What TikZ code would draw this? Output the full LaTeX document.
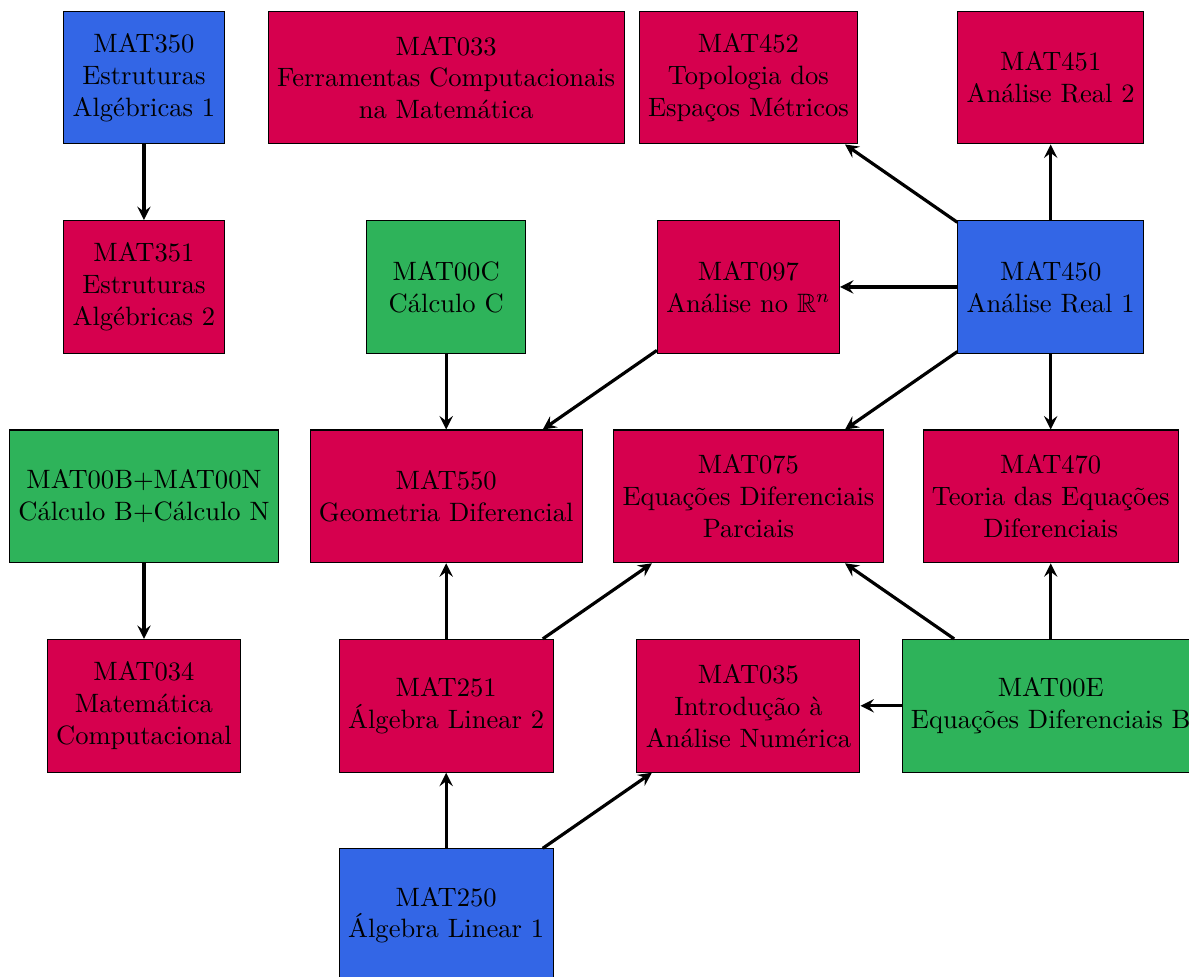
\documentclass[tikz,border=0pt]{standalone}
\usepackage{xcolor}
\usepackage{amssymb}
\usepackage{amsmath}
\usepackage{tikz}
\usetikzlibrary{calc}
\usetikzlibrary{positioning}

\definecolor{azul}{RGB}{51,102,230}
\definecolor{vermelho}{RGB}{214,0,78}
\definecolor{verde}{RGB}{46,179,90}

\begin{document}
\begin{tikzpicture}

        \def\d{1cm}

        % Estilo comum das disciplinas e cores por tipo
        \tikzset{materia/.style={draw, align=center, minimum height=5em, minimum width=6em},
                 obrig/.style={materia, fill=azul},
                 optat/.style={materia, fill=vermelho},
                 calc/.style={materia, fill=verde}}

        \useasboundingbox (-54.2pt, 29.2pt) rectangle (393.5pt, -338.3pt);

        % Primeira linha fixa as colunas, o resto vem abaixo
        \begin{scope}
            \node[obrig] (MAT350) at (0, 0) {MAT350\\Estruturas\\Alg\'ebricas 1};
            \node[optat] (MAT033) at (4, 0) {MAT033\\Ferramentas Computacionais\\na Matem\'atica};
            \node[optat] (MAT452) at (8, 0) {MAT452\\Topologia dos\\Espa\c{c}os M\'etricos};
            \node[optat] (MAT451) at (12, 0) {MAT451\\An\'alise Real 2};

            \node[optat] (MAT351) [below=\d of MAT350] {MAT351\\Estruturas\\Alg\'ebricas 2};
            \node[calc] (MAT00C) [below=\d of MAT033] {MAT00C\\C\'alculo C};
            \node[optat] (MAT097) [below=\d of MAT452] {MAT097\\An\'alise no $\mathbb{R}^n$};
            \node[obrig] (MAT450) [below=\d of MAT451] {MAT450\\An\'alise Real 1};

            \node[calc] (MAT00B) [below=\d of MAT351] {MAT00B+MAT00N\\C\'alculo B+C\'alculo N};
            \node[optat] (MAT550) [below=\d of MAT00C] {MAT550\\Geometria Diferencial};
            \node[optat] (MAT075) [below=\d of MAT097] {MAT075\\Equa\c{c}\~oes Diferenciais\\Parciais};
            \node[optat] (MAT470) [below=\d of MAT450] {MAT470\\Teoria das Equa\c{c}\~oes\\Diferenciais};

            \node[optat] (MAT034) [below=\d of MAT00B] {MAT034\\Matem\'atica\\Computacional};
            \node[optat] (MAT251) [below=\d of MAT550] {MAT251\\\'Algebra Linear 2};
            \node[optat] (MAT035) [below=\d of MAT075] {MAT035\\Introdu\c{c}\~ao \`a\\An\'alise Num\'erica};
            \node[calc] (MAT00E) [below=\d of MAT470] {MAT00E\\Equa\c{c}\~oes Diferenciais B};

            \node[obrig] (MAT250) [below=\d of MAT251] {MAT250\\\'Algebra Linear 1};
        \end{scope}

        \begin{scope}[very thick, -stealth]
            \draw (MAT350) -- (MAT351);
            \draw (MAT00B) -- (MAT034);
            \draw (MAT00C) -- (MAT550);

            \draw (MAT450) -- (MAT452);
            \draw (MAT450) -- (MAT451);
            \draw (MAT450) -- (MAT097);
            \draw (MAT450) -- (MAT075);
            \draw (MAT450) -- (MAT470);
            \draw (MAT097) -- (MAT550);

            \draw (MAT251) -- (MAT550);
            \draw (MAT251) -- (MAT075);
            \draw (MAT250) -- (MAT251);
            \draw (MAT250) -- (MAT035);

            \draw (MAT00E) -- (MAT075);
            \draw (MAT00E) -- (MAT470);
            \draw (MAT00E) -- (MAT035);
        \end{scope}

\end{tikzpicture}
\end{document}
